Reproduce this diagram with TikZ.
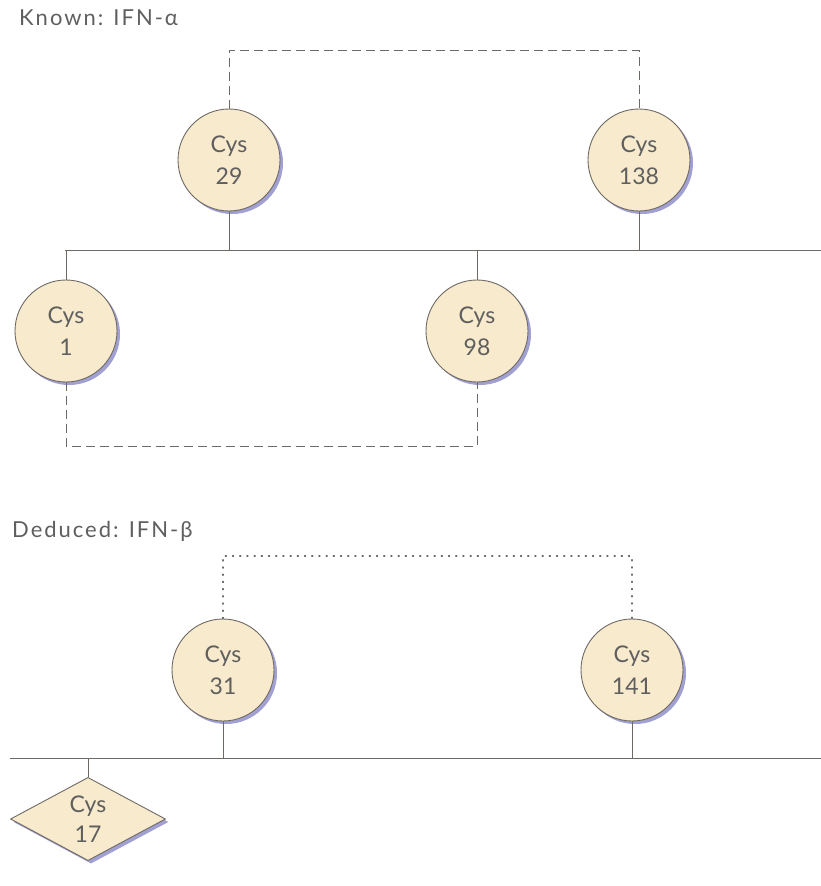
\documentclass[tikz,border=0pt]{standalone}
\usepackage{fontspec}
\setmainfont{Lato}
\newfontfamily\lblfont[LetterSpace=9]{Lato}
\usetikzlibrary{shapes.geometric,shadows}
\definecolor{cysfill}{RGB}{248,234,204}
\definecolor{cysline}{RGB}{110,105,100}
\definecolor{shade}{RGB}{150,150,205}
\definecolor{txt}{RGB}{95,95,95}
\begin{document}
\begin{tikzpicture}[x=1pt,y=-1pt,
  cys/.style={circle,draw=cysline,line width=0.9pt,fill=cysfill,minimum size=102pt,inner sep=0pt,
    align=center,text=txt,font=\fontsize{23}{32}\selectfont,
    drop shadow={shadow xshift=3pt,shadow yshift=-3pt,fill=shade,opacity=0.9}},
  cysd/.style={diamond,draw=cysline,line width=0.9pt,fill=cysfill,minimum width=155pt,minimum height=67pt,inner sep=0pt,
    align=center,text=txt,font=\fontsize{23}{30}\selectfont,
    drop shadow={shadow xshift=3pt,shadow yshift=-3pt,fill=shade,opacity=0.9}},
  lbl/.style={anchor=base west,text=txt,font=\lblfont\fontsize{22}{26}\selectfont,inner sep=0pt},
  bond/.style={draw=cysline,line width=0.8pt},
  dashbond/.style={draw=cysline,line width=0.8pt,dash pattern=on 9pt off 5pt},
  dotbond/.style={draw=cysline,line width=1.1pt,dash pattern=on 1.2pt off 6pt,line cap=round}]
\useasboundingbox (0,0) rectangle (821,886);

% Known
\node[lbl] (t1) at (19,25) {Known: IFN-α};
\node[cys] (c29) at (229,160) {Cys\\29};
\node[cys] (c138) at (639,160) {Cys\\138};
\node[cys] (c1) at (66,331) {Cys\\1};
\node[cys] (c98) at (477,331) {Cys\\98};
\coordinate (l1a) at (65,250);
\coordinate (l1b) at (821,250);
\draw[bond] (l1a) -- (l1b);
\draw[bond] (c29.south) -- (c29.south |- l1a);
\draw[bond] (c138.south) -- (c138.south |- l1a);
\draw[bond] (c1.north) -- (c1.north |- l1a);
\draw[bond] (c98.north) -- (c98.north |- l1a);
\coordinate (d1) at (229,50);
\draw[dashbond] (c29.north) -- (d1) -| (c138.north);
\coordinate (d2) at (66,446);
\draw[dashbond] (c1.south) -- (d2) -| (c98.south);

% Deduced
\node[lbl] (t2) at (12,537) {Deduced: IFN-β};
\node[cys] (c31) at (223,670) {Cys\\31};
\node[cys] (c141) at (632,670) {Cys\\141};
\node[cysd] (c17) at (88,819) {Cys\\17};
\coordinate (l2a) at (10,758);
\coordinate (l2b) at (821,758);
\draw[bond] (l2a) -- (l2b);
\draw[bond] (c31.south) -- (c31.south |- l2a);
\draw[bond] (c141.south) -- (c141.south |- l2a);
\draw[bond] (c17.north) -- (c17.north |- l2a);
\coordinate (d3) at (223,556);
\draw[dotbond] (c31.north) -- (d3) -| (c141.north);
\end{tikzpicture}
\end{document}
